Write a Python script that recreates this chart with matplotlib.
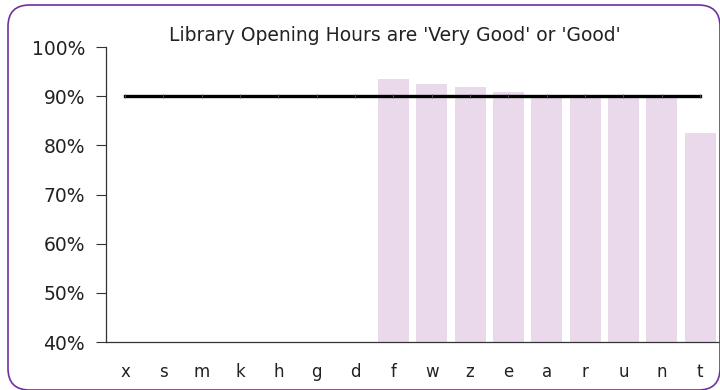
import matplotlib
matplotlib.use('Agg')
import matplotlib.pyplot as plt
from matplotlib.patches import FancyBboxPatch
from matplotlib.ticker import PercentFormatter

# Share of respondents rating opening hours 'Very Good' or 'Good'
categories = ['x', 's', 'm', 'k', 'h', 'g', 'd', 'f', 'w', 'z', 'e', 'a', 'r', 'u', 'n', 't']
scores = [None, None, None, None, None, None, None,
          93.5, 92.6, 92.0, 90.8, 90.3, 89.8, 89.8, 89.8, 82.5]
target = 90

fig = plt.figure(figsize=(7.2, 3.9), dpi=100)
ax = fig.add_axes([0.147, 0.123, 0.852, 0.756])

xs = list(range(len(categories)))
bar_x = [i for i, v in zip(xs, scores) if v is not None]
bar_h = [v for v in scores if v is not None]
ax.bar(bar_x, bar_h, width=0.81, color='#e9d9eb', zorder=1)
ax.plot(xs, [target] * len(xs), color='black', lw=2.4, marker='|',
        markersize=3, markeredgewidth=0.6, markeredgecolor='#555555', zorder=3)

ax.set_xlim(-0.5, len(categories) - 0.5)
ax.set_ylim(40, 100)
ax.set_yticks(range(40, 101, 10))
ax.yaxis.set_major_formatter(PercentFormatter(decimals=0))
ax.set_xticks(xs)
ax.set_xticklabels(categories)
ax.tick_params(axis='x', length=0, pad=15, labelsize=12, colors='#222222')
ax.tick_params(axis='y', length=7, width=0.8, pad=8, labelsize=13.5, colors='#333333',
               labelcolor='#222222')
for side in ['top', 'right']:
    ax.spines[side].set_visible(False)
for side in ['left', 'bottom']:
    ax.spines[side].set_color('#333333')
    ax.spines[side].set_linewidth(0.9)

fig.text(0.549, 0.908, "Library Opening Hours are 'Very Good' or 'Good'",
         ha='center', va='center', fontsize=13.5, color='#222222')

# rounded frame around the whole chart
frame = FancyBboxPatch((8 / 720, 0.0), 712 / 720, 385 / 390,
                       boxstyle='round,pad=0,rounding_size=0.03',
                       transform=fig.transFigure, fill=False,
                       edgecolor='#7030a0', lw=1.2, mutation_aspect=720 / 390)
fig.patches.append(frame)

fig.savefig('out.png', dpi=100)
